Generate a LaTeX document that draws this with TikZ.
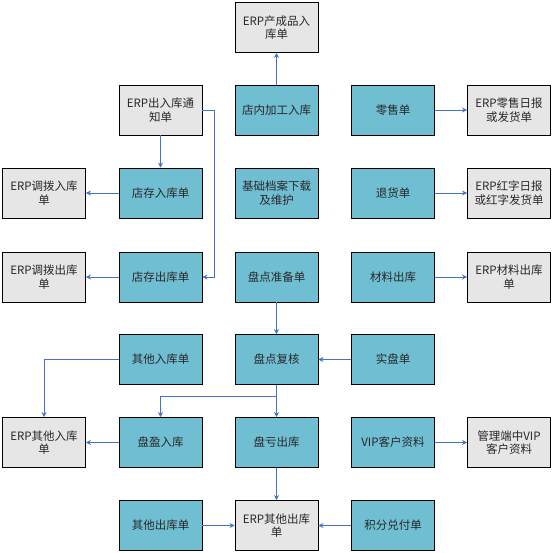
\documentclass[tikz,border=0pt]{standalone}
\usepackage{fontspec}
\setmainfont{Noto Sans CJK SC}
\usetikzlibrary{arrows.meta}
\definecolor{boxblue}{RGB}{112,190,210}
\definecolor{boxgray}{RGB}{230,230,230}
\definecolor{lineblue}{RGB}{68,114,196}
\definecolor{txt}{RGB}{40,40,40}
\begin{document}
\begin{tikzpicture}[x=1pt,y=-1pt,
 box/.style={draw=black, line width=0.8pt, minimum width=83pt, minimum height=50pt, inner sep=1pt, align=center, font=\fontsize{11.5}{13.5}\selectfont, text=txt},
 bluebox/.style={box, fill=boxblue},
 graybox/.style={box, fill=boxgray},
 conn/.style={draw=lineblue, line width=0.9pt, -{Stealth[length=5pt,width=5pt]}}]
\useasboundingbox (0,0) rectangle (553,553);
% row 0
\node[graybox] (erpcp) at (276.5,27.5) {ERP产成品入\\库单};
% row 1
\node[graybox] (tz) at (160.5,110) {ERP出入库通\\知单};
\node[bluebox] (jg) at (276.5,110) {店内加工入库};
\node[bluebox] (ls) at (393,110) {零售单};
\node[graybox] (erpls) at (509,110) {ERP零售日报\\或发货单};
% row 2
\node[graybox] (erpdbrk) at (44,193) {ERP调拨入库\\单};
\node[bluebox] (dcrk) at (160.5,193) {店存入库单};
\node[bluebox] (jc) at (276.5,193) {基础档案下载\\及维护};
\node[bluebox] (th) at (393,193) {退货单};
\node[graybox] (erphz) at (509,193) {ERP红字日报\\或红字发货单};
% row 3
\node[graybox] (erpdbck) at (44,277) {ERP调拨出库\\单};
\node[bluebox] (dcck) at (160.5,277) {店存出库单};
\node[bluebox] (pdzb) at (276.5,277) {盘点准备单};
\node[bluebox] (clck) at (393,277) {材料出库};
\node[graybox] (erpcl) at (509,277) {ERP材料出库\\单};
% row 4
\node[bluebox] (qtrk) at (160.5,359.5) {其他入库单};
\node[bluebox] (pdfh) at (276.5,359.5) {盘点复核};
\node[bluebox] (sp) at (393,359.5) {实盘单};
% row 5
\node[graybox] (erpqtrk) at (44,442.5) {ERP其他入库\\单};
\node[bluebox] (pyrk) at (160.5,442.5) {盘盈入库};
\node[bluebox] (pkck) at (276.5,442.5) {盘亏出库};
\node[bluebox] (vip) at (393,442.5) {VIP客户资料};
\node[graybox] (glvip) at (509,442.5) {管理端中VIP\\客户资料};
% row 6
\node[bluebox] (qtck) at (160.5,525.5) {其他出库单};
\node[graybox] (erpqtck) at (276.5,525.5) {ERP其他出库\\单};
\node[bluebox] (jf) at (393,525.5) {积分兑付单};
% connectors
\draw[conn] (jg) -- (erpcp);
\draw[conn] (tz) -- (dcrk);
\draw[conn] (tz.east) -- ++(12,0) |- (dcck.east);
\draw[conn] (dcrk) -- (erpdbrk);
\draw[conn] (dcck) -- (erpdbck);
\draw[conn] (ls) -- (erpls);
\draw[conn] (th) -- (erphz);
\draw[conn] (clck) -- (erpcl);
\draw[conn] (pdzb) -- (pdfh);
\draw[conn] (sp) -- (pdfh);
\draw[conn] (qtrk.west) -| (erpqtrk.north);
\draw[conn] (pdfh) -- (pkck);
\draw[conn] (pdfh.south) -- ++(0,12) -| (pyrk.north);
\draw[conn] (pyrk) -- (erpqtrk);
\draw[conn] (vip) -- (glvip);
\draw[conn] (pkck) -- (erpqtck);
\draw[conn] (qtck) -- (erpqtck);
\draw[conn] (jf) -- (erpqtck);
\end{tikzpicture}
\end{document}
